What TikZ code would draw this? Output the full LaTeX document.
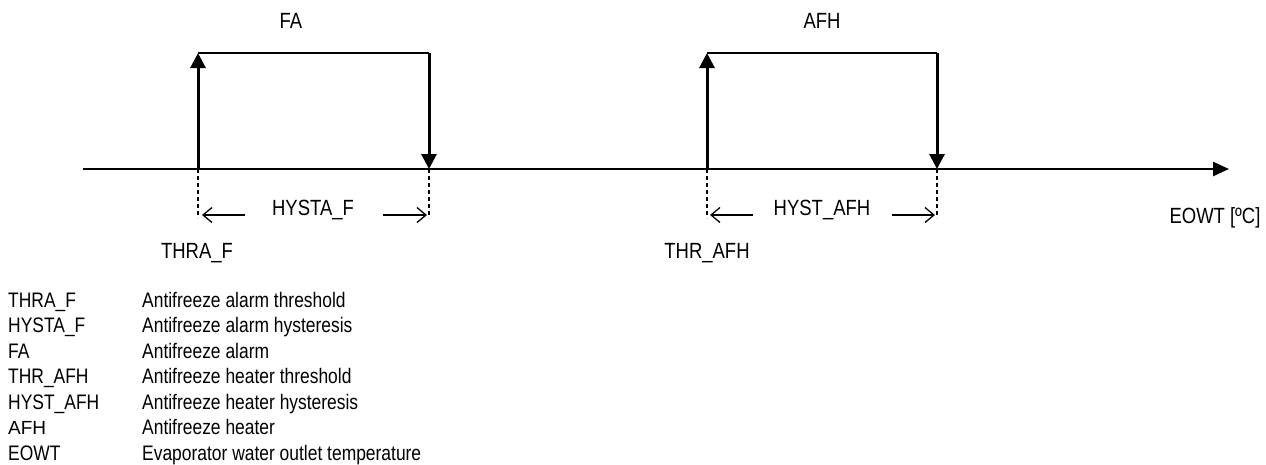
\documentclass[tikz,border=0pt]{standalone}
\usepackage{fontspec}
\setmainfont[FakeStretch=0.84]{Liberation Sans}
\newfontfamily\legfont[FakeStretch=0.83]{Liberation Sans}
\newfontfamily\plainfont{Liberation Sans}
\usetikzlibrary{arrows.meta}
\tikzset{
  lbl/.style={inner sep=0pt, anchor=base, font=\fontsize{22}{24}\selectfont},
  leg/.style={inner sep=0pt, anchor=base west, font=\legfont\fontsize{21}{23}\selectfont},
  axisline/.style={line width=2.5pt, -{Triangle[length=16pt,width=14pt]}},
  rise/.style={line width=3pt, -{Triangle[length=15pt,width=15pt]}},
  guide/.style={line width=1.6pt, dash pattern=on 4pt off 3pt},
  dim/.style={line width=1.3pt, -{Straight Barb[length=9pt,width=15pt,line width=1.3pt]}}
}
\begin{document}
\begin{tikzpicture}[x=1pt,y=-1pt]
\useasboundingbox (0,0) rectangle (1266,464);
% axis
\coordinate (ax0) at (83,169);
\coordinate (ax1) at (1229,169);
\draw[axisline] (ax0) -- (ax1);
% pulse 1
\coordinate (p1b) at (198,169);
\coordinate (p1t) at (198,53);
\coordinate (p1r) at (429,53);
\coordinate (p1e) at (429,169);
\coordinate (p1bd) at (198,218);
\coordinate (p1ed) at (429,218);
\draw[line width=2.2pt] (p1t) -- (p1r);
\draw[rise] (p1b) -- (p1t);
\draw[rise] (p1r) -- (p1e);
\draw[guide] (p1b) -- (p1bd);
\draw[guide] (p1e) -- (p1ed);
% pulse 2
\coordinate (p2b) at (707,169);
\coordinate (p2t) at (707,53);
\coordinate (p2r) at (937,53);
\coordinate (p2e) at (937,169);
\coordinate (p2bd) at (707,218);
\coordinate (p2ed) at (937,218);
\draw[line width=2.2pt] (p2t) -- (p2r);
\draw[rise] (p2b) -- (p2t);
\draw[rise] (p2r) -- (p2e);
\draw[guide] (p2b) -- (p2bd);
\draw[guide] (p2e) -- (p2ed);
% labels
\node[lbl] (fa) at (291,28) {FA};
\node[lbl] (afh) at (822,28) {AFH};
\node[lbl] (hystaf) at (313,215) {HYSTA\_F};
\node[lbl] (hystafh) at (822,215) {HYST\_AFH};
\node[lbl] (thraf) at (197,258) {THRA\_F};
\node[lbl] (thrafh) at (707,258) {THR\_AFH};
\node[lbl] (eowt) at (1215,223) {EOWT [ºC]};
% dimension arrows
\coordinate (d1a) at (245,215); \coordinate (d1b) at (202,215);
\coordinate (d1c) at (383,215); \coordinate (d1d) at (427,215);
\coordinate (d2a) at (753,215); \coordinate (d2b) at (710,215);
\coordinate (d2c) at (892,215); \coordinate (d2d) at (935,215);
\draw[dim] (d1a) -- (d1b);
\draw[dim] (d1c) -- (d1d);
\draw[dim] (d2a) -- (d2b);
\draw[dim] (d2c) -- (d2d);
% legend
\node[leg] (n1) at (8,307) {THRA\_F};
\node[leg] (n2) at (8,332.5) {HYSTA\_F};
\node[leg] (n3) at (8,358) {FA};
\node[leg] (n4) at (8,383.5) {THR\_AFH};
\node[leg] (n5) at (8,409) {HYST\_AFH};
\node[leg, font=\plainfont\fontsize{19}{21}\selectfont] (n6) at (8,434.5) {AFH};
\node[leg] (n7) at (8,460) {EOWT};
\node[leg] (t1) at (142,307) {Antifreeze alarm threshold};
\node[leg] (t2) at (142,332.5) {Antifreeze alarm hysteresis};
\node[leg] (t3) at (142,358) {Antifreeze alarm};
\node[leg] (t4) at (142,383.5) {Antifreeze heater threshold};
\node[leg] (t5) at (142,409) {Antifreeze heater hysteresis};
\node[leg] (t6) at (142,434.5) {Antifreeze heater};
\node[leg] (t7) at (142,460) {Evaporator water outlet temperature};
\end{tikzpicture}
\end{document}
